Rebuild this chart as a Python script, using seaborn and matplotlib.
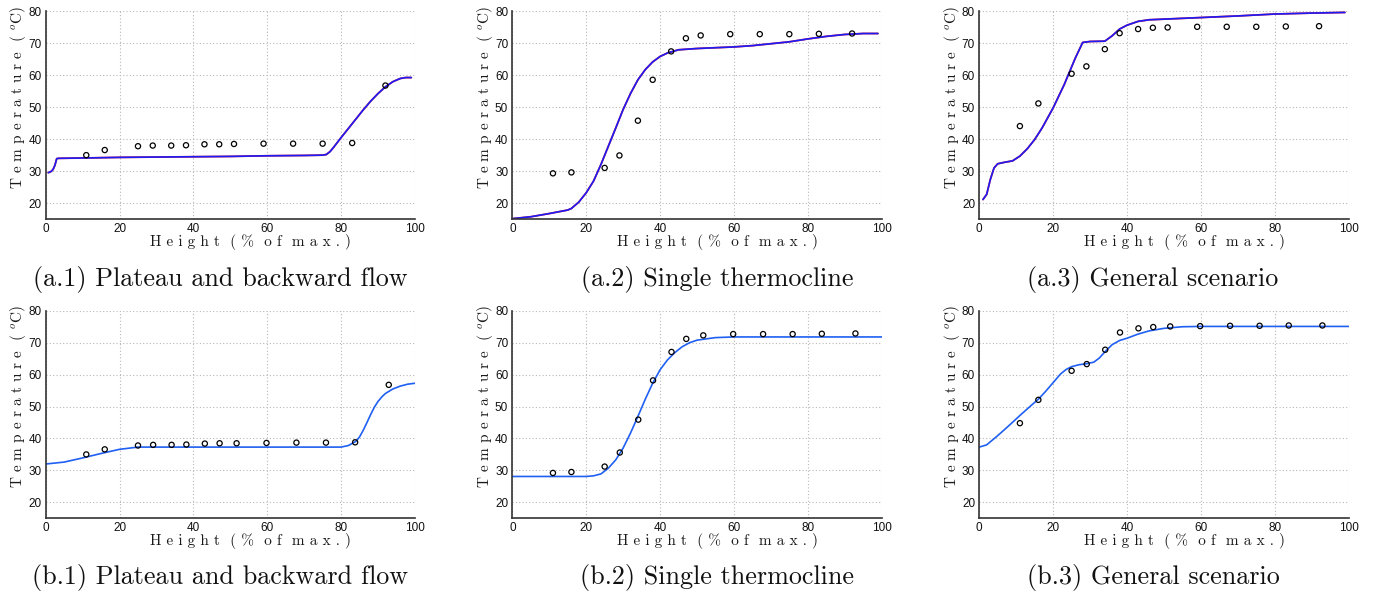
import numpy as np
import pandas as pd
import matplotlib
matplotlib.use("Agg")
import matplotlib.pyplot as plt
import seaborn as sns

# sensor heights (% of max.) and measured temperatures
h_a = [11, 16, 25, 29, 34, 38, 43, 47, 51, 59, 67, 75, 83, 92]
h_b = [11, 16, 25, 29.1, 34.1, 38.1, 43.1, 47.1, 51.7, 59.8, 67.9, 75.9, 83.8, 92.9]

t_a1 = [35.0, 36.6, 37.8, 38.0, 38.0, 38.1, 38.4, 38.4, 38.5, 38.6, 38.6, 38.6, 38.8, 56.8]
t_a2 = [29.3, 29.6, 31.0, 34.9, 45.8, 58.6, 67.5, 71.6, 72.5, 72.9, 72.9, 72.9, 73.0, 73.1]
t_a3 = [44.1, 51.2, 60.5, 62.8, 68.2, 73.2, 74.5, 74.9, 75.0, 75.2, 75.2, 75.2, 75.3, 75.4]
t_b1 = [35.0, 36.6, 37.8, 38.0, 38.0, 38.1, 38.4, 38.5, 38.5, 38.6, 38.7, 38.7, 38.8, 56.8]
t_b2 = [29.2, 29.5, 31.2, 35.6, 45.9, 58.2, 67.1, 71.2, 72.3, 72.7, 72.7, 72.7, 72.8, 72.9]
t_b3 = [44.8, 52.1, 61.2, 63.3, 67.8, 73.2, 74.5, 74.9, 75.1, 75.2, 75.3, 75.3, 75.4, 75.4]

# model profiles
a1_x = [0.7, 1.5, 2, 2.5, 3, 3.5, 10, 20, 30, 40, 50, 60, 70, 75, 76, 77, 78, 80, 82, 84, 86, 88, 90, 92, 94, 96, 97.5, 99]
a1_y = [29.5, 29.9, 30.5, 31.8, 33.9, 34.0, 34.1, 34.3, 34.4, 34.5, 34.6, 34.8, 34.9, 35.0, 35.2, 36.1, 37.5, 40.5, 43.4, 46.3, 49.2, 51.9, 54.3, 56.4, 58.0, 59.0, 59.3, 59.3]
a2_x = [0, 5, 10, 15, 16, 18, 20, 22, 24, 26, 28, 30, 32, 34, 36, 38, 40, 42, 45, 50, 60, 65, 70, 75, 80, 85, 90, 95, 99]
a2_y = [15.1, 15.7, 16.7, 17.8, 18.3, 20.3, 23.2, 26.9, 32.1, 37.8, 43.5, 49.3, 54.3, 58.6, 61.8, 64.2, 65.9, 67.0, 68.0, 68.4, 68.9, 69.3, 69.9, 70.5, 71.4, 72.2, 72.8, 73.1, 73.1]
a3_x = [1, 2, 3, 4, 5, 7, 9, 11, 13, 15, 17, 20, 23, 26, 28, 30, 34, 36, 38, 40, 43, 46, 50, 60, 70, 80, 90, 99]
a3_y = [21.1, 22.7, 27.4, 31.0, 32.3, 32.8, 33.2, 34.7, 37.0, 39.9, 43.5, 49.8, 57.1, 65.4, 70.3, 70.6, 70.7, 72.4, 74.5, 75.7, 76.9, 77.4, 77.6, 78.1, 78.6, 79.2, 79.5, 79.7]
b1_x = [0, 5, 10, 15, 20, 25, 30, 40, 50, 60, 70, 80, 82, 84, 85, 86, 87, 88, 89, 90, 91, 92, 94, 96, 98, 100]
b1_y = [32.0, 32.6, 33.9, 35.3, 36.6, 37.3, 37.3, 37.3, 37.3, 37.3, 37.3, 37.3, 37.8, 39.1, 40.5, 42.6, 45.0, 47.5, 49.8, 51.6, 53.0, 54.1, 55.5, 56.4, 57.0, 57.3]
b2_x = [0, 10, 20, 22, 24, 26, 28, 30, 32, 34, 36, 38, 40, 42, 44, 46, 48, 50, 55, 60, 80, 100]
b2_y = [28.1, 28.1, 28.1, 28.3, 28.9, 30.7, 33.3, 37.0, 41.7, 46.9, 52.3, 57.3, 61.5, 64.6, 66.9, 68.75, 70.0, 70.8, 71.6, 71.8, 71.8, 71.8]
b3_x = [0, 2, 5, 8, 11, 14, 16, 18, 20, 22, 23.5, 25, 27, 29, 31, 32.5, 34.3, 36, 38, 40, 43, 46, 50, 55, 60, 80, 100]
b3_y = [37.3, 38.0, 40.9, 44.0, 47.2, 50.3, 52.3, 54.8, 57.5, 60.2, 61.6, 62.5, 63.1, 63.4, 63.9, 65.2, 67.5, 69.4, 70.7, 71.4, 72.7, 73.7, 74.5, 75.0, 75.1, 75.1, 75.1]

captions = ["(a.1) Plateau and backward flow", "(a.2) Single thermocline", "(a.3) General scenario",
            "(b.1) Plateau and backward flow", "(b.2) Single thermocline", "(b.3) General scenario"]

sns.set_style("white")
plt.rcParams['font.family'] = ['Liberation Sans', 'DejaVu Sans']
plt.rcParams['mathtext.fontset'] = 'cm'

fig = plt.figure(figsize=(13.75, 5.98), dpi=100)

lefts = [0.0332, 0.3726, 0.7122]
bottoms = [0.6338, 0.1333]
cap_x = [0.160, 0.5215, 0.8385]
cap_y = [0.532, 0.034]

panels = [
    (h_a, t_a1, a1_x, a1_y, True), (h_a, t_a2, a2_x, a2_y, True), (h_a, t_a3, a3_x, a3_y, True),
    (h_b, t_b1, b1_x, b1_y, False), (h_b, t_b2, b2_x, b2_y, False), (h_b, t_b3, b3_x, b3_y, False),
]

for i, (hx, ty, cx, cy, two_lines) in enumerate(panels):
    row, col = divmod(i, 3)
    ax = fig.add_axes([lefts[col], bottoms[row], 0.2686, 0.347])
    curve = pd.DataFrame({'x': cx, 'y': cy})
    if two_lines:
        # the two model runs nearly coincide: red sits just under blue
        sns.lineplot(data=curve, x='x', y='y', ax=ax, color='#e0202a', linewidth=1.3, sort=False)
        sns.lineplot(data=curve, x='x', y='y', ax=ax, color='#1c1cf8', linewidth=1.2, sort=False)
    else:
        sns.lineplot(data=curve, x='x', y='y', ax=ax, color='#1f5ff2', linewidth=1.2, sort=False)
    sns.scatterplot(x=hx, y=ty, ax=ax, marker='o', s=14, facecolor='none',
                    edgecolor='black', linewidth=0.9, zorder=5)

    ax.set_xlim(0, 100)
    ax.set_ylim(15, 80)
    ax.set_xticks(range(0, 101, 20))
    ax.set_yticks(range(20, 81, 10))
    ax.grid(True, color='#b8b8b8', linestyle=(0, (1, 2)), linewidth=0.8)
    for s in ['top', 'right']:
        ax.spines[s].set_visible(False)
    for s in ['left', 'bottom']:
        ax.spines[s].set_color('#333333')
        ax.spines[s].set_linewidth(1.2)
    ax.tick_params(direction='in', length=3, width=0.8, color='#333333',
                   labelsize=8.5, pad=3, labelcolor='#111111')

    ax.set_xlabel("H e i g h t  ( %  o f  m a x . )", family='cmr10', fontsize=11, color='#1a1a1a')
    ax.set_ylabel("T e m p e r a t u r e  ( $^o$C)", family='cmr10', fontsize=11, color='#1a1a1a')
    ax.xaxis.set_label_coords(0.556, -0.072)
    ax.yaxis.set_label_coords(-0.048, 0.585)

    fig.text(cap_x[col], cap_y[row], captions[i], family='cmr10', fontsize=18.8,
             ha='center', va='center', color='#111111')

fig.savefig('out.png', dpi=100)
